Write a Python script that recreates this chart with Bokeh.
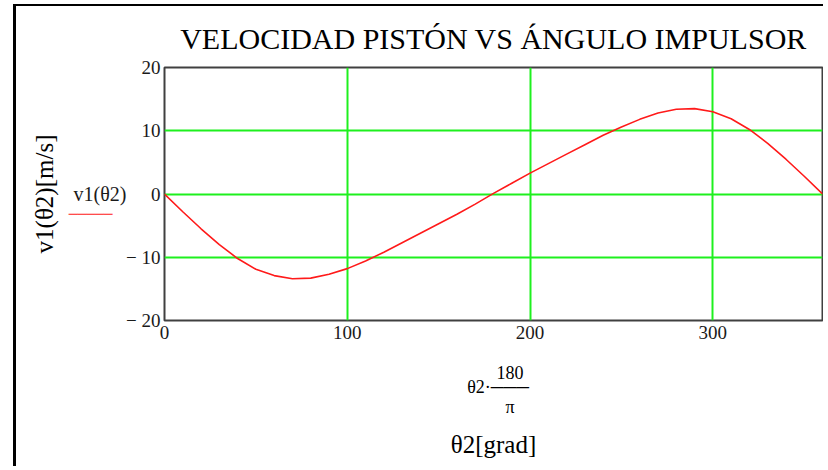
from bokeh.plotting import figure
from bokeh.models import FixedTicker, Range1d, LinearAxis
from bokeh.embed import file_html
from bokeh.resources import INLINE

# ---- data ----
theta_deg = [0, 10, 20, 30, 40, 50, 60, 70, 80, 90, 100, 110, 120, 130, 140, 150, 160, 170,
             180, 190, 200, 210, 220, 230, 240, 250, 260, 270, 280, 290, 300, 310, 320, 330,
             340, 350, 360]
v1 = [0.0, -2.8, -5.5, -8.0, -10.2, -11.9, -12.9, -13.4, -13.3, -12.7, -11.8, -10.6, -9.2,
      -7.7, -6.2, -4.7, -3.2, -1.6, 0.1, 1.7, 3.3, 4.8, 6.3, 7.8, 9.3, 10.6, 11.8, 12.8,
      13.4, 13.5, 13.0, 11.9, 10.2, 8.0, 5.5, 2.8, 0.0]
x_ticks = [0, 100, 200, 300]
y_ticks = [-20, -10, 0, 10, 20]
y_tick_labels = {-20: "\u2212 20", -10: "\u2212 10", 0: "0", 10: "10", 20: "20"}
title_text = "VELOCIDAD PISTÓN VS ÁNGULO IMPULSOR"
y_label_text = "v1(θ2)[m/s]"
legend_text = "v1(θ2)"
legend_key = "\u2500" * 5
x_expr_num, x_expr_var, x_expr_bar, x_expr_den = "180", "θ2·", "\u2500" * 3, "π"
x_label_text = "θ2[grad]"

SERIF = "Liberation Serif"
# anchors (in axis units) for the legend/expression pieces
LEGEND_TEXT_Y, LEGEND_KEY_Y = 0.0, -3.23
EXPR_VAR_X, EXPR_FRAC_X = 172.1, 189.0

p = figure(width=810, height=462, output_backend="svg", toolbar_location=None,
           x_range=Range1d(0, 360), y_range=Range1d(-20, 20),
           min_border_left=148, min_border_right=4, min_border_top=60, min_border_bottom=148)
p.styles = {"border-left": "3px solid black", "border-top": "2px solid black",
            "margin-left": "13px", "margin-top": "4px"}

p.outline_line_color = "#404040"
p.outline_line_width = 2
p.background_fill_color = "white"
p.border_fill_color = "white"

# title
p.title.text = title_text
p.title.align = "center"
p.title.text_font = SERIF
p.title.text_font_size = "30px"
p.title.text_font_style = "normal"
p.title.text_color = "black"
p.title.standoff = 26


def bare(ax, font=SERIF, size="19px", color="#1a1a1a", standoff=4):
    ax.axis_line_color = None
    ax.major_tick_line_color = None
    ax.minor_tick_line_color = None
    ax.major_tick_out = 0
    ax.major_tick_in = 0
    ax.minor_tick_out = 0
    ax.minor_tick_in = 0
    ax.major_label_text_font = font
    ax.major_label_text_font_size = size
    ax.major_label_text_color = color
    ax.major_label_standoff = standoff
    ax.axis_label_text_font = SERIF
    ax.axis_label_text_font_style = "normal"
    ax.axis_label_text_color = "black"


# main axes
p.xaxis.ticker = FixedTicker(ticks=x_ticks, minor_ticks=[])
p.yaxis.ticker = FixedTicker(ticks=y_ticks, minor_ticks=[])
p.yaxis.major_label_overrides = y_tick_labels
bare(p.xaxis[0], standoff=5)
bare(p.yaxis[0], standoff=4)

p.xgrid.ticker = FixedTicker(ticks=[100, 200, 300])
p.ygrid.ticker = FixedTicker(ticks=[-10, 0, 10])
p.grid.grid_line_color = "#1ef01e"
p.grid.grid_line_width = 2

p.line(theta_deg, v1, line_color="#ff1a1a", line_width=1.6)

# legend text (left side, level with 0)
ax_leg = LinearAxis(ticker=FixedTicker(ticks=[LEGEND_TEXT_Y], minor_ticks=[]),
                    major_label_overrides={LEGEND_TEXT_Y: legend_text})
bare(ax_leg, size="20px", standoff=-3)
p.add_layout(ax_leg, "left")

# legend key line under the text, plus the y axis title
ax_key = LinearAxis(ticker=FixedTicker(ticks=[LEGEND_KEY_Y], minor_ticks=[]),
                    major_label_overrides={LEGEND_KEY_Y: legend_key},
                    axis_label=y_label_text)
bare(ax_key, font="DejaVu Sans", size="14.5px", color="#ff1a1a", standoff=-42)
ax_key.axis_label_text_font_size = "25px"
ax_key.axis_label_standoff = 8
p.add_layout(ax_key, "left")

# x expression  θ2·180/π  (three rows)
ax_num = LinearAxis(ticker=FixedTicker(ticks=[EXPR_FRAC_X], minor_ticks=[]),
                    major_label_overrides={EXPR_FRAC_X: x_expr_num})
bare(ax_num, size="18px", color="black", standoff=24)
p.add_layout(ax_num, "below")

ax_mid = LinearAxis(ticker=FixedTicker(ticks=[EXPR_VAR_X, EXPR_FRAC_X], minor_ticks=[]),
                    major_label_overrides={EXPR_VAR_X: x_expr_var, EXPR_FRAC_X: x_expr_bar})
bare(ax_mid, size="18px", color="black", standoff=-5)
p.add_layout(ax_mid, "below")

ax_den = LinearAxis(ticker=FixedTicker(ticks=[EXPR_FRAC_X], minor_ticks=[]),
                    major_label_overrides={EXPR_FRAC_X: x_expr_den},
                    axis_label=x_label_text)
bare(ax_den, size="18px", color="black", standoff=-3)
ax_den.axis_label_text_font_size = "25px"
ax_den.axis_label_standoff = 11
p.add_layout(ax_den, "below")

open("out.html", "w").write(file_html(p, INLINE))
